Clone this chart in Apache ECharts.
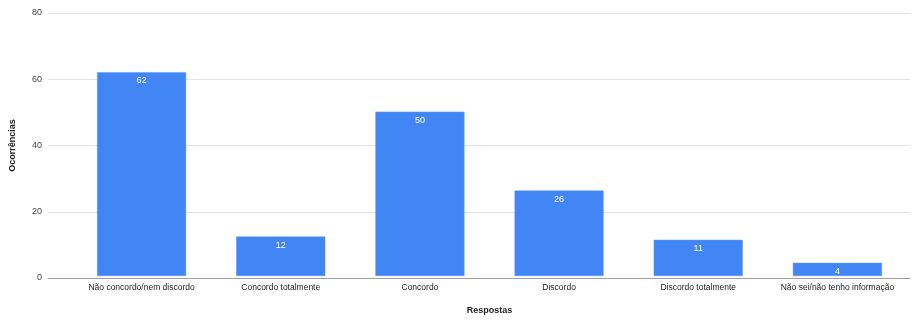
<!DOCTYPE html>
<html>
<head>
<meta charset="utf-8">
<script src="https://cdn.jsdelivr.net/npm/echarts@6/dist/echarts.min.js"></script>
<style>
  html, body { margin: 0; padding: 0; background: #fff; }
  #chart { width: 914px; height: 320px; }
</style>
</head>
<body>
<div id="chart"></div>
<script>
// Respostas e número de ocorrências
const categories = [
  'Não concordo/nem discordo',
  'Concordo totalmente',
  'Concordo',
  'Discordo',
  'Discordo totalmente',
  'Não sei/não tenho informação'
];
const occurrences = [62, 12, 50, 26, 11, 4];
const yTicks = [0, 20, 40, 60, 80];

const FONT = 'Liberation Sans, Arial, sans-serif';
const chart = echarts.init(document.getElementById('chart'));

chart.setOption({
  animation: false,
  textStyle: { fontFamily: FONT },
  grid: [
    // grid holding the value scale and gridlines
    { left: 48, right: 4, top: 13, bottom: 42 },
    // grid holding the bars
    { left: 72, right: 7, top: 13, bottom: 42 }
  ],
  xAxis: [
    {
      gridIndex: 0, type: 'value', min: 0, max: 1,
      axisLabel: { show: false }, axisTick: { show: false }, splitLine: { show: false },
      axisLine: { show: true, lineStyle: { color: '#9e9e9e', width: 1 } }
    },
    {
      gridIndex: 1, type: 'category', data: categories,
      axisLine: { show: false }, axisTick: { show: false },
      axisLabel: { color: '#222', fontSize: 8.5, margin: 7, interval: 0, fontFamily: FONT },
      name: 'Respostas', nameLocation: 'middle', nameGap: 30,
      nameTextStyle: { fontWeight: 'bold', fontSize: 9, color: '#222', fontFamily: FONT }
    }
  ],
  yAxis: [
    {
      gridIndex: 0, type: 'value',
      min: yTicks[0], max: yTicks[yTicks.length - 1], interval: yTicks[1] - yTicks[0],
      axisLine: { show: false }, axisTick: { show: false },
      axisLabel: { color: '#444', fontSize: 9, margin: 6, fontFamily: FONT },
      splitLine: { show: true, lineStyle: { color: '#e3e3e3', width: 1 } },
      name: 'Ocorrências', nameLocation: 'middle', nameGap: 31, nameRotate: 90,
      nameTextStyle: { fontWeight: 'bold', fontSize: 9, color: '#222', fontFamily: FONT }
    },
    {
      gridIndex: 1, type: 'value',
      min: yTicks[0], max: yTicks[yTicks.length - 1],
      show: false
    }
  ],
  series: [
    {
      type: 'bar',
      xAxisIndex: 1, yAxisIndex: 1,
      data: occurrences,
      barWidth: '64%',
      itemStyle: { color: '#4285f4', borderColor: '#5e97f6', borderWidth: 0.5 },
      label: {
        show: true, position: 'insideTop', distance: 4,
        color: '#fff', fontSize: 9, fontFamily: FONT
      }
    }
  ]
});
</script>
</body>
</html>
